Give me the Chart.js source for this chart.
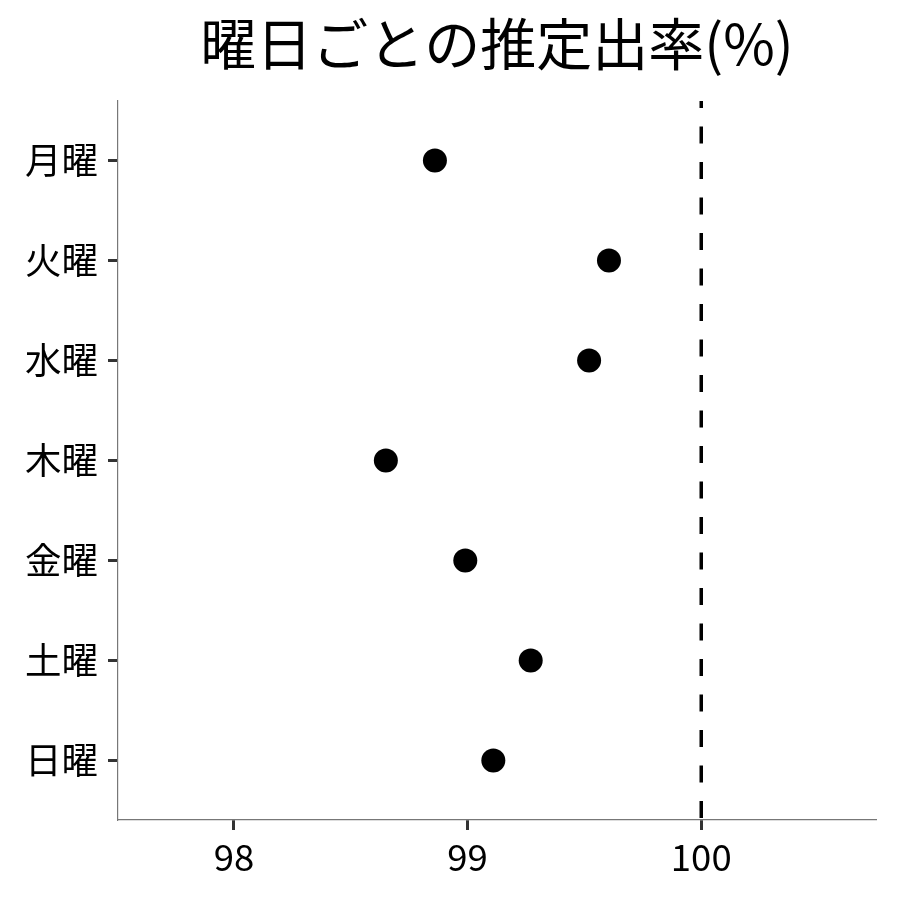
<!DOCTYPE html>
<html>
<head>
<meta charset="utf-8">
<script src="https://cdn.jsdelivr.net/npm/chart.js@4"></script>
<style>
html,body{margin:0;padding:0;background:#fff;}
#wrap{width:900px;height:900px;}
</style>
</head>
<body>
<div id="wrap"><canvas id="c" width="900" height="900"></canvas></div>
<script>
const titleText = '曜日ごとの推定出率(%)';
const categories = ['月曜','火曜','水曜','木曜','金曜','土曜','日曜'];
const rates = [98.86, 99.605, 99.52, 98.65, 98.99, 99.27, 99.11];
const xTickValues = [98, 99, 100];
const referenceValue = 100;
const xRange = [97.5035, 100.748];
const yRange = [-0.595, 6.595];

const FONT = '"Noto Sans CJK JP", "Noto Sans", sans-serif';

const points = categories.map((c, i) => ({x: rates[i], y: i}));

new Chart(document.getElementById('c'), {
  type: 'scatter',
  data: {
    datasets: [
      {
        type: 'line',
        data: [{x: referenceValue, y: yRange[0]}, {x: referenceValue, y: yRange[1]}],
        borderColor: '#000',
        borderWidth: 3.5,
        borderDash: [17, 18.5],
        borderDashOffset: 10,
        pointRadius: 0,
        fill: false,
        order: 2
      },
      {
        data: points,
        backgroundColor: '#000',
        borderColor: '#000',
        borderWidth: 0,
        pointRadius: 12,
        pointHoverRadius: 12,
        order: 1
      }
    ]
  },
  options: {
    responsive: false,
    animation: false,
    events: [],
    layout: {padding: {left: 0, right: 24, top: 0, bottom: 0}},
    plugins: {
      legend: {display: false},
      tooltip: {enabled: false},
      title: {
        display: true,
        text: titleText,
        fullSize: false,
        color: '#000',
        font: {family: FONT, size: 56, weight: 'normal', lineHeight: 1.2},
        padding: {top: 10, bottom: 23.8}
      }
    },
    scales: {
      x: {
        type: 'linear',
        min: xRange[0],
        max: xRange[1],
        afterBuildTicks: s => { s.ticks = xTickValues.map(v => ({value: v})); },
        afterFit: s => { s.height = 80; },
        ticks: {
          color: '#000',
          font: {family: FONT, size: 36.5},
          padding: 5,
          callback: v => String(v)
        },
        grid: {drawOnChartArea: false, drawTicks: true, tickLength: 10, tickWidth: 3, tickColor: '#333'},
        border: {display: true, color: '#777', width: 1.2}
      },
      y: {
        type: 'linear',
        reverse: true,
        min: yRange[0],
        max: yRange[1],
        afterBuildTicks: s => { s.ticks = categories.map((c, i) => ({value: i})); },
        afterFit: s => { s.width = 118; },
        ticks: {
          color: '#000',
          font: {family: FONT, size: 36.5},
          padding: 10,
          callback: v => categories[v]
        },
        grid: {drawOnChartArea: false, drawTicks: true, tickLength: 10, tickWidth: 3, tickColor: '#333'},
        border: {display: true, color: '#777', width: 1.2}
      }
    }
  }
});
</script>
</body>
</html>
